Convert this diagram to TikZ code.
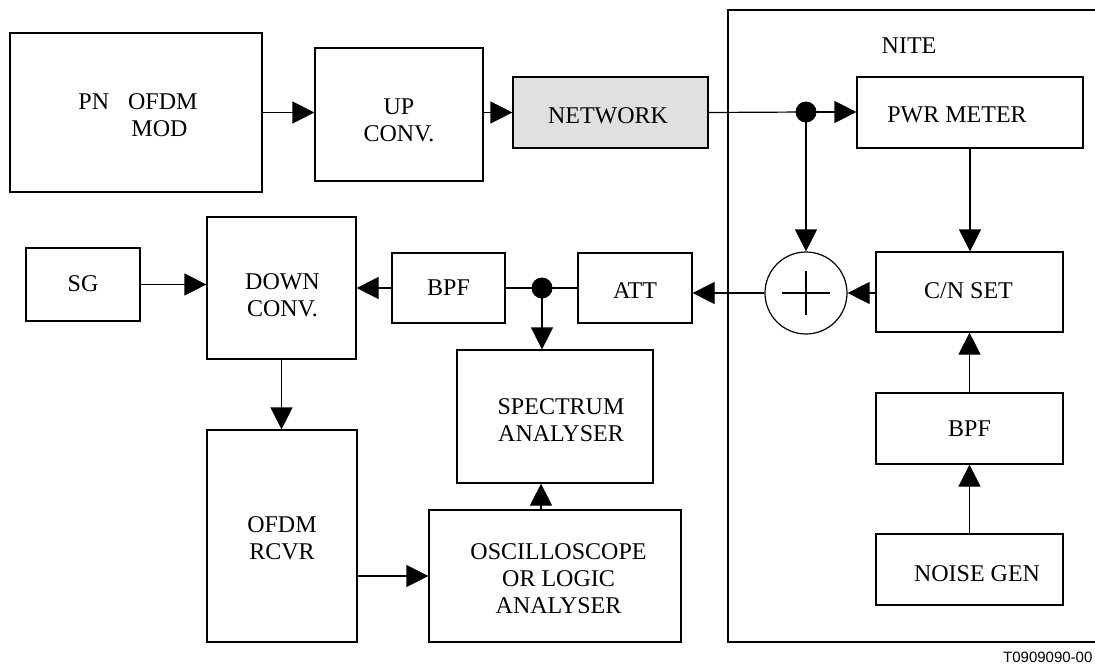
\documentclass[tikz,border=0pt]{standalone}
\usepackage{fontspec}
\setmainfont{Liberation Serif}
\newfontfamily\footfont{Liberation Sans}
\usetikzlibrary{arrows.meta}
\begin{document}
\begin{tikzpicture}[x=1pt,y=-1pt,
  line width=1.2pt,
  font=\fontsize{24}{27}\selectfont,
  blk/.style={draw, rectangle, inner sep=0pt},
  txt/.style n args={3}{label={[align=center, inner sep=0pt, xshift=#1, yshift=-#2]center:#3}},
  arr/.style={-{Triangle[length=22pt,width=22pt]}},
  junc/.style={circle, fill=black, inner sep=0pt, minimum size=21pt}]
\useasboundingbox (0,0) rectangle (1095,664);
% NITE enclosure
\draw (1100,10) -- (728,10) -- (728,642) -- (1100,642);
\node (nitelbl) at (909,46) {NITE};
% blocks
\node[blk, minimum width=252pt, minimum height=159pt,
  label={[align=left, inner sep=0pt, xshift=2pt, yshift=-2.5pt]center:PN\hspace{19pt}OFDM\\\hspace{53pt}MOD}] (mod) at (136,112.5) {};
\node[blk, minimum width=168pt, minimum height=133pt, txt={0pt}{6pt}{UP\\CONV.}] (up) at (399,114.5) {};
\node[blk, fill=black!12, minimum width=195pt, minimum height=71pt, txt={-2.5pt}{3pt}{NETWORK}] (net) at (610.5,112.5) {};
\node[blk, minimum width=226pt, minimum height=71pt, txt={-13pt}{2pt}{PWR METER}] (pwr) at (970,112.5) {};
\node[junc] (dot1) at (806,112) {};
\node[draw, circle, inner sep=0pt, minimum size=82pt] (sum) at (806,293) {};
\node[blk, minimum width=187pt, minimum height=80pt, txt={-1pt}{-1pt}{C/N SET}] (cn) at (969.5,292) {};
\node[blk, minimum width=187pt, minimum height=71pt, txt={0pt}{0pt}{BPF}] (bpfb) at (969.5,428.5) {};
\node[blk, minimum width=187pt, minimum height=71pt, txt={7.5pt}{4pt}{NOISE GEN}] (noise) at (969.5,569.5) {};
\node[blk, minimum width=114pt, minimum height=70pt, txt={0pt}{3pt}{ATT}] (att) at (635,288) {};
\node[junc] (dot2) at (542,288) {};
\node[blk, minimum width=113pt, minimum height=70pt, txt={0pt}{0pt}{BPF}] (bpfa) at (448.5,288) {};
\node[blk, minimum width=149pt, minimum height=142pt, txt={1pt}{7pt}{DOWN\\CONV.}] (down) at (281.5,288) {};
\node[blk, minimum width=114pt, minimum height=73pt, txt={0pt}{-1pt}{SG}] (sg) at (83,284.5) {};
\node[blk, minimum width=196pt, minimum height=133pt, txt={6pt}{4pt}{SPECTRUM\\ANALYSER}] (spec) at (555,416.5) {};
\node[blk, minimum width=150pt, minimum height=212pt, txt={0pt}{2.5pt}{OFDM\\RCVR}] (rcvr) at (282,536) {};
\node[blk, minimum width=252pt, minimum height=132pt, txt={3.5pt}{3pt}{OSCILLOSCOPE\\OR LOGIC\\ANALYSER}] (osc) at (555,576) {};
% plus sign
\draw ([xshift=-24pt]sum.center) -- ([xshift=24pt]sum.center);
\draw ([yshift=22pt]sum.center) -- ([yshift=-22pt]sum.center);
% connectors
\draw[arr] (mod.east) -- (mod.east -| up.west);
\draw[arr] (up.east |- net.west) -- (net.west);
\draw (net.east) -- (dot1.center);
\draw[arr] (dot1.center) -- (dot1 -| pwr.west);
\draw[arr] (dot1.center) -- (sum.north);
\draw[arr] (pwr.south) -- (pwr.south |- cn.north);
\draw[arr] (cn.west |- sum.east) -- (sum.east);
\draw[arr] (sum.west) -- (sum.west -| att.east);
\draw (bpfa.east) -- (att.west);
\draw[arr] (dot2.center) -- (dot2 |- spec.north);
\draw[arr] (bpfa.west) -- (bpfa.west -| down.east);
\draw[arr] (sg.east) -- (sg.east -| down.west);
\draw[arr] (down.south) -- (down.south |- rcvr.north);
\draw[arr] (rcvr.east |- osc.west) -- (osc.west);
\coordinate (oscup) at ([xshift=-14pt]osc.north);
\draw[arr] (oscup) -- (oscup |- spec.south);
\draw[arr] (noise.north) -- (noise.north |- bpfb.south);
\draw[arr] (bpfb.north) -- (bpfb.north |- cn.south);
% footnote
\node[anchor=base east, inner sep=0pt, font=\footfont\fontsize{15}{17}\selectfont] (tag) at (1093,662) {T0909090-00};
\end{tikzpicture}
\end{document}
